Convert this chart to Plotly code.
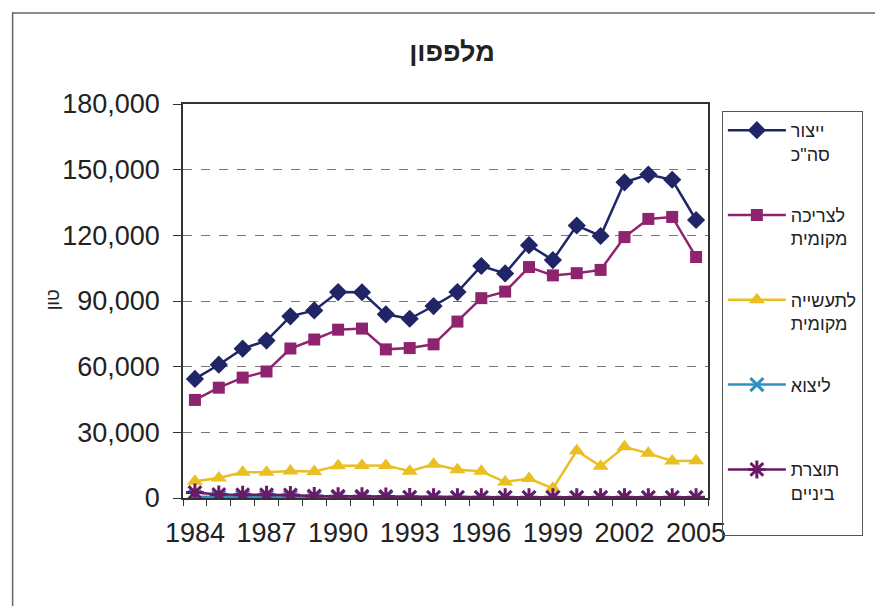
import plotly.graph_objects as go

# Cucumber: production and its uses, in tons
years = list(range(1984, 2006))
label_years = [1984, 1987, 1990, 1993, 1996, 1999, 2002, 2005]

total_production = [54400, 60900, 68200, 71900, 83000, 85700, 94100, 94000, 83900, 81900, 87700,
                    94100, 106000, 102600, 115500, 108700, 124500, 119700, 144200, 147800, 145400, 127000]
local_consumption = [44800, 50400, 55000, 57800, 68300, 72400, 76900, 77400, 67900, 68500, 70200,
                     80600, 91300, 94300, 105500, 101700, 102700, 104200, 119200, 127500, 128400, 110100]
local_industry = [7600, 9100, 11800, 11800, 12300, 12100, 14700, 14800, 14900, 12200, 15400,
                  12900, 12200, 7300, 8900, 4400, 21600, 14500, 23400, 20400, 16900, 17000]
export = [600, 400, 400, 400, 400, 300, 300, 300, 300, 200, 200,
          200, 200, 200, 200, 200, 200, 200, 200, 200, 200, 200]
intermediate = [2500, 1600, 1500, 1500, 1400, 900, 800, 800, 700, 400, 300,
                300, 300, 300, 300, 300, 300, 300, 300, 300, 300, 300]

y_ticks = [0, 30000, 60000, 90000, 120000, 150000, 180000]

series = [
    ("ייצור<br>סה\"כ", total_production, "#1f2566", "diamond", 14),
    ("לצריכה<br>מקומית", local_consumption, "#8e2370", "square", 12),
    ("לתעשייה<br>מקומית", local_industry, "#e9bf22", "triangle-up", 14),
    ("ליצוא<br> ", export, "#2f8fc4", "x-thin-open", 13),
    ("תוצרת<br>ביניים<br> ", intermediate, "#6a1a66", "asterisk-open", 15),
]

FONT = "Arial, Liberation Sans, DejaVu Sans, sans-serif"

fig = go.Figure()
for i, (name, values, color, symbol, size) in enumerate(series):
    marker = dict(symbol=symbol, size=size, color=color)
    if symbol.endswith("open"):
        marker["line"] = dict(color=color, width=3)
    fig.add_trace(go.Scatter(
        x=years, y=values, name=name, mode="lines+markers",
        line=dict(color=color, width=2.5), marker=marker,
        legendgroup=f"g{i}",
    ))

L, R, T, B = 183, 162, 104, 108
W, H = 875, 606
pw, ph = W - L - R, H - T - B

fig.update_layout(
    width=W, height=H,
    margin=dict(l=L, r=R, t=T, b=B),
    paper_bgcolor="white", plot_bgcolor="white",
    font=dict(family=FONT, color="#222"),
    title=dict(text="<b>מלפפון</b>", x=452 / W, xanchor="center",
               y=1 - 52 / H, yanchor="middle",
               font=dict(size=27, family=FONT, color="#222")),
    showlegend=True,
    legend=dict(x=(727 - L) / pw, xanchor="left", y=1 + (T - 111) / ph, yanchor="top",
                bordercolor="#555", borderwidth=1, bgcolor="rgba(0,0,0,0)",
                font=dict(size=18, family=FONT, color="#222"),
                traceorder="grouped", tracegroupgap=35, itemwidth=58, valign="top",
                maxheight=600),
    xaxis=dict(range=[1983.5, 2005.5], tickmode="array", tickvals=label_years,
               ticktext=[str(y) for y in label_years], ticks="", showgrid=False,
               tickfont=dict(size=27, family=FONT, color="#222"), ticklabelstandoff=10,
               showline=True, linecolor="#333", linewidth=1.5, mirror=True, zeroline=False,
               minor=dict(ticks="outside", tick0=1983.5, dtick=1, ticklen=6,
                          tickcolor="#333", showgrid=False)),
    yaxis=dict(range=[0, 180000], tickmode="array", tickvals=y_ticks, tickformat=",",
               ticks="outside", ticklen=8, tickcolor="#333",
               tickfont=dict(size=27, family=FONT, color="#222"), ticklabelstandoff=8,
               showline=True, linecolor="#333", linewidth=1.5, mirror=True,
               showgrid=True, gridcolor="#777", griddash="dash", gridwidth=1, zeroline=False),
    annotations=[dict(text="טון", textangle=-90, x=(40 - L) / pw, y=(498 - 300) / ph,
                      xref="paper", yref="paper", showarrow=False,
                      font=dict(size=18, family=FONT, color="#222"))],
    shapes=[dict(type="rect", xref="paper", yref="paper",
                 x0=(11 - L) / pw, x1=(890 - L) / pw, y0=(498 - 620) / ph, y1=(498 - 13) / ph,
                 line=dict(color="#666", width=1.5), layer="below")],
)

fig.write_html("out.html")
